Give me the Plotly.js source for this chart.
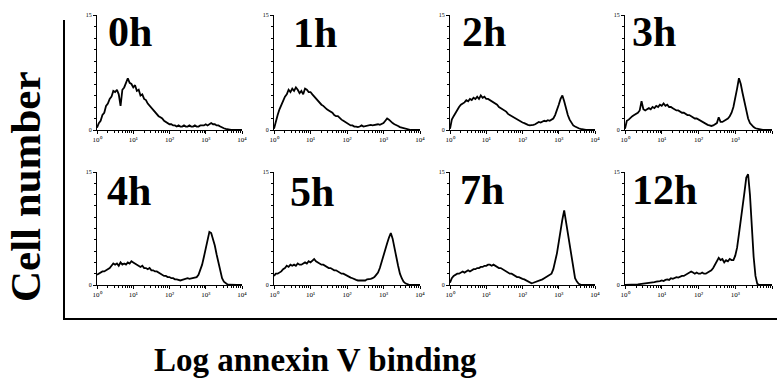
<!DOCTYPE html>
<html>
<head>
<meta charset="utf-8">
<script src="https://cdn.plot.ly/plotly-3.0.1.min.js"></script>
<style>html,body{margin:0;padding:0;background:#fff;}#chart{width:777px;height:381px;}</style>
</head>
<body>
<div id="chart"></div>
<script>
// log10 of annexin V fluorescence (channel positions, decades)
const logX = [
  0,0.05,0.1,0.15,0.2,0.25,0.3,0.35,0.4,0.45,
  0.5,0.55,0.6,0.65,0.7,0.75,0.8,0.85,0.9,0.95,
  1,1.05,1.1,1.15,1.2,1.25,1.3,1.35,1.4,1.45,
  1.5,1.55,1.6,1.65,1.7,1.75,1.8,1.85,1.9,1.95,
  2,2.05,2.1,2.15,2.2,2.25,2.3,2.35,2.4,2.45,
  2.5,2.55,2.6,2.65,2.7,2.75,2.8,2.85,2.9,2.95,
  3,3.05,3.1,3.15,3.2,3.25,3.3,3.35,3.4,3.45,
  3.5,3.55,3.6,3.65,3.7,3.75,3.8,3.85,3.9,3.95,
  4
];

const panelLabels = ['0h','1h','2h','3h','4h','5h','7h','12h'];

// cell number, percent of axis height
const counts0h = [
  2,6,8,13,15,21,23,27,29,34,
  33,35,31,21,35,37,41,45,41,40,
  37,39,34,35,30,31,27,26,23,21,
  19,17,16,14,12,11,10,8,7,6,
  5,5,4,4,3,4,3,3,4,3,
  3,4,3,3,4,3,3,4,4,4,
  5,4,5,6,5,5,4,4,3,2,
  1.5,1,0.5,0.3,0,0,0,0,0,0,
  0
];
const counts1h = [
  1,8,13,18,22,26,29,31,35,33,
  36,34,37,35,32,34,31,36,35,33,
  33,31,29,27,26,24,22,21,19,18,
  17,16,15,13,12,12,10,9,8,7,
  6,5,4,4,3,3,2.5,3,4,3,
  3.5,4,4,4.5,4,4.5,4.5,5,4.5,5,
  6,8,10,9,7,6,5,4.5,3.5,2.5,
  2,1.5,1,0.5,0.2,0,0,0,0,0,
  0
];
const counts2h = [
  1,9,12,15,18,20,22,23,24,26,
  25,27,26,28,27,29,27,30,28,29,
  27,27,26,25,24,23,22,20,19,18,
  17,16,14,13,12,11,10,9,8,7,
  6.5,6,5,4.5,4,4,4.5,5,6,7,
  6.5,7.5,8,7.5,8.5,8,9,10,13,17,
  22,27,30,25,18,13,9,6,4,3,
  2,1.5,1,0.5,0.3,0,0,0,0,0,
  0
];
const counts3h = [
  1,8,9,11,12,13,14,15,17,25,
  18,17,18,19,18,20,19,21,20,22,
  21,23,21,22,20,20,19,18,17,17,
  16,15,15,14,13,13,12,11,10,10,
  9,8,7,6,5,4.5,4,3.5,4,5,
  6,11,7,7,8,9,10,12,15,20,
  27,36,45,40,32,24,16,10,6,4,
  2.5,1.5,1,0.5,0.2,0,0,0,0,0,
  0
];
const counts4h = [
  9,10,11,12,12,13,14,15,17,19,
  18,19,17,20,18,19,18,20,19,21,
  20,19,18,17,16,17,15,15,14,15,
  13,13,12,12,11,10,9,8,8,7,
  7,6,6,5,5,4.5,4,4.5,5,5,
  6,5.5,6,6.5,7,7,9,13,18,25,
  32,40,47,46,41,35,27,19,12,6,
  3,1.5,0.5,0.2,0,0,0,0,0,0,
  0
];
const counts5h = [
  8,10,10,11,12,14,15,17,16,18,
  17,18,17,19,18,18,19,20,19,21,
  20,22,23,21,20,19,18,18,17,16,
  15,15,14,13,13,12,11,10,10,9,
  8,7,6.5,6,5,4.5,4,4,4,4.5,
  4,5,5,5.5,6,7,9,11,15,21,
  27,33,37,42,46,41,34,25,17,10,
  6,3,1.5,0.5,0.2,0,0,0,0,0,
  0
];
const counts7h = [
  2,6,8,9,10,10,11,12,11,12,
  13,12,13,14,14,15,15,16,16,17,
  17,18,18,17,18,17,16,15,15,14,
  13,12,11,10,10,9,8,7,7,6,
  5.5,5,4,3,2,1.5,2,2.5,3,3.5,
  4,5,6,7,8,9,10,14,20,28,
  38,49,58,66,56,46,33,22,13,6,
  3,1,0.3,0,0,0,0,0,0,0,
  0
];
const counts12h = [
  0,0,0,0,0.3,0.3,0.5,0.5,0.8,1,
  1,1.2,1.5,1.5,2,2,2.5,3,3,3.5,
  4,3.5,4.5,5,4.5,6,5.5,6.5,7,6.5,
  7.5,8,8,9,10,11,12,11,10,11,
  10,10,11,10,10,11,12,13,15,18,
  20,24,22,23,20,22,21,23,22,22,
  26,33,45,56,69,82,95,98,80,50,
  25,8,1,0,0,0,0,0,0,0,
  0
];
const series = [counts0h,counts1h,counts2h,counts3h,counts4h,counts5h,counts7h,counts12h];

const xTickVals = [1,10,100,1000,10000];
const xTickText = ['10⁰','10¹','10²','10³','10⁴'];
const yTickVals = [0,100];
const yTickText = ['0','15'];

// ---- layout geometry (pixels) ----
const W = 777, H = 381;
const colPx = [[97,242],[274,420],[450,595],[625,772]];
const rowPx = [[15,130],[172,285]];
const labelPos = [[106,32],[291,33],[460,32],[630,32],[105,191],[288,192],[458,190],[630,190]];

const fx = p => p / W;
const fy = p => 1 - p / H;

const data = [];
const layout = {
  width: W, height: H,
  margin: {l:0, r:0, t:0, b:0, pad:0},
  paper_bgcolor: '#fff', plot_bgcolor: 'rgba(0,0,0,0)',
  showlegend: false,
  font: {family: 'Liberation Serif, serif', color: '#000'},
  annotations: [],
  shapes: []
};

for (let i = 0; i < 8; i++) {
  const r = Math.floor(i / 4), c = i % 4;
  const sfx = i === 0 ? '' : String(i + 1);
  data.push({
    type: 'scatter', mode: 'lines',
    x: logX.map(v => Math.pow(10, v)),
    y: series[i],
    xaxis: 'x' + sfx, yaxis: 'y' + sfx,
    line: {color: '#000', width: 1.8},
    hoverinfo: 'skip'
  });
  layout['xaxis' + sfx] = {
    type: 'log', range: [0, 4],
    domain: [fx(colPx[c][0]), fx(colPx[c][1])],
    anchor: 'y' + sfx,
    showline: true, linecolor: '#000', linewidth: 1,
    showgrid: false, zeroline: false,
    tickmode: 'array', tickvals: xTickVals, ticktext: xTickText,
    ticks: 'outside', ticklen: 3, tickwidth: 1, tickcolor: '#000',
    minor: {dtick: 'D1', ticks: 'outside', ticklen: 2, tickwidth: 1, tickcolor: '#000', showgrid: false},
    tickfont: {size: 7, family: 'Liberation Serif, serif', color: '#000'},
    fixedrange: true
  };
  layout['yaxis' + sfx] = {
    range: [0, 100],
    domain: [fy(rowPx[r][1]), fy(rowPx[r][0])],
    anchor: 'x' + sfx,
    showline: true, linecolor: '#000', linewidth: 1,
    showgrid: false, zeroline: false,
    tickmode: 'array', tickvals: yTickVals, ticktext: yTickText,
    ticks: 'outside', ticklen: 3, tickwidth: 1, tickcolor: '#000',
    minor: {dtick: 10, ticks: 'outside', ticklen: 2, tickwidth: 1, tickcolor: '#000', showgrid: false},
    tickfont: {size: 6, family: 'Liberation Serif, serif', color: '#000'},
    fixedrange: true
  };
  layout.annotations.push({
    xref: 'paper', yref: 'paper',
    x: fx(labelPos[i][0]), y: fy(labelPos[i][1]),
    xanchor: 'left', yanchor: 'middle',
    text: '<b>' + panelLabels[i] + '</b>',
    showarrow: false,
    font: {family: 'Liberation Serif, serif', size: 42, color: '#000'}
  });
}

// outer L-shaped frame
layout.shapes.push({type:'line', xref:'paper', yref:'paper', x0:fx(64), x1:fx(64), y0:fy(20), y1:fy(319), line:{color:'#000', width:2}});
layout.shapes.push({type:'line', xref:'paper', yref:'paper', x0:fx(63), x1:fx(777), y0:fy(319), y1:fy(319), line:{color:'#000', width:2}});

// global axis titles
layout.annotations.push({
  xref:'paper', yref:'paper', x: fx(25), y: fy(187),
  xanchor:'center', yanchor:'middle', textangle: -90,
  text:'<b>Cell number</b>', showarrow:false,
  font:{family:'Liberation Serif, serif', size:43, color:'#000'}
});
layout.annotations.push({
  xref:'paper', yref:'paper', x: fx(315), y: fy(360),
  xanchor:'center', yanchor:'middle',
  text:'<b>Log annexin V binding</b>', showarrow:false,
  font:{family:'Liberation Serif, serif', size:33, color:'#000'}
});

Plotly.newPlot('chart', data, layout, {staticPlot: true, displayModeBar: false});
</script>
</body>
</html>
